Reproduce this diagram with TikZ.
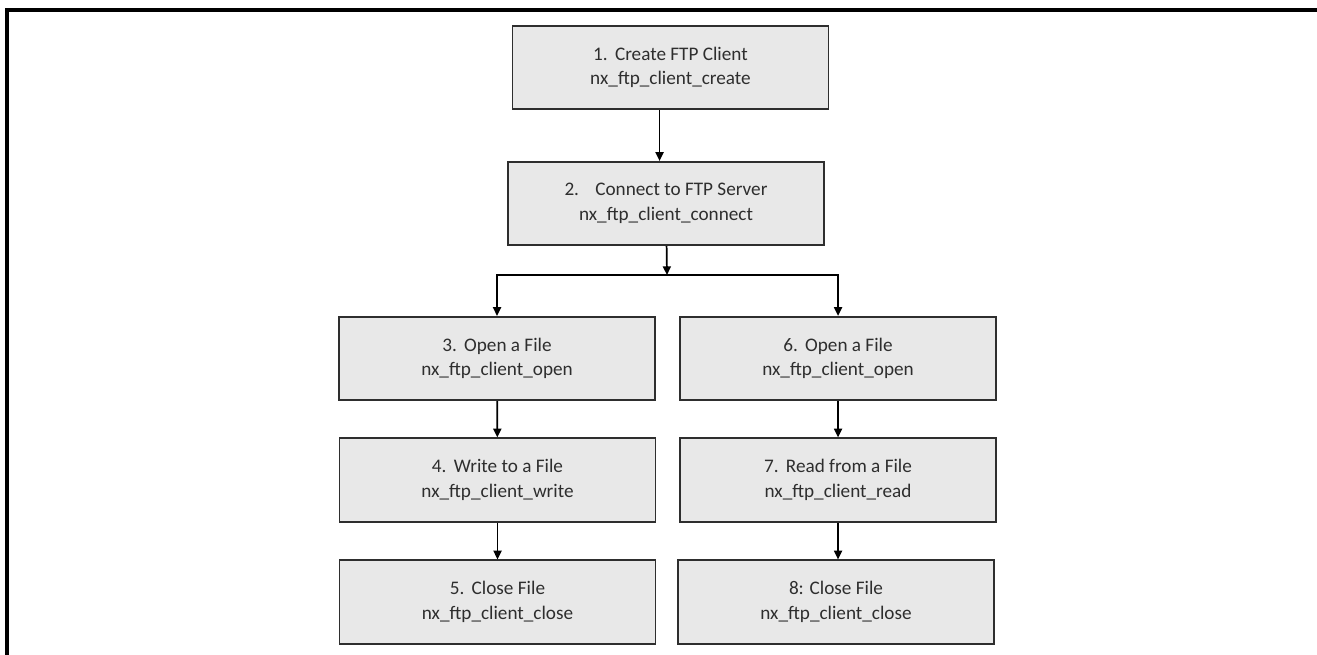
\documentclass[tikz,border=0pt]{standalone}
\usepackage{fontspec}
\setmainfont{Carlito}
\usetikzlibrary{arrows.meta}
\definecolor{boxfill}{HTML}{E8E8E8}
\definecolor{boxline}{HTML}{2E2E2E}
\newcommand\numgap{\hspace{0.38em}}
\tikzset{
  stepbox/.style={draw=boxline, line width=1.4pt, fill=boxfill,
    minimum width=237pt, minimum height=62.5pt, inner sep=0pt,
    align=center, text=black!82, font=\fontsize{14.4}{18.5}\selectfont},
}
\begin{document}
\begin{tikzpicture}[x=0.75pt,y=-0.75pt,->,>={Triangle[length=6.5pt,width=6pt]},line width=1.3pt]
  \useasboundingbox (0,0) rectangle (1317,655);
  % page frame
  \draw[-,line width=2.4pt] (1317,10) -- (7,10) -- (7,655);
  \node[stepbox] (create) at (670.5,67.5) {1.\numgap Create FTP Client\\nx\_ftp\_client\_create};
  \node[stepbox] (connect) at (666,203.5) {2.\hspace{0.85em}Connect to FTP Server\\nx\_ftp\_client\_connect};
  \coordinate (split) at (667,275);
  \node[stepbox] (openw) at (497,358.5) {3.\numgap Open a File\\nx\_ftp\_client\_open};
  \node[stepbox] (write) at (497.5,480) {4.\numgap Write to a File\\nx\_ftp\_client\_write};
  \node[stepbox] (closew) at (497.5,602) {5.\numgap Close File\\nx\_ftp\_client\_close};
  \node[stepbox] (openr) at (838,358.5) {6.\numgap Open a File\\nx\_ftp\_client\_open};
  \node[stepbox] (read) at (838,480) {7.\numgap Read from a File\\nx\_ftp\_client\_read};
  \node[stepbox] (closer) at (836,602) {8: Close File\\nx\_ftp\_client\_close};
  \draw ([xshift=-8.25pt]create.south) -- ([xshift=-8.25pt]create.south |- connect.north);
  \draw (connect) -- (split);
  \draw (split) -| (openw);
  \draw (split) -| (openr);
  \draw (openw) -- (write);
  \draw (write) -- (closew);
  \draw (openr) -- (read);
  \draw (read) -- (closer.north -| read);
\end{tikzpicture}
\end{document}
